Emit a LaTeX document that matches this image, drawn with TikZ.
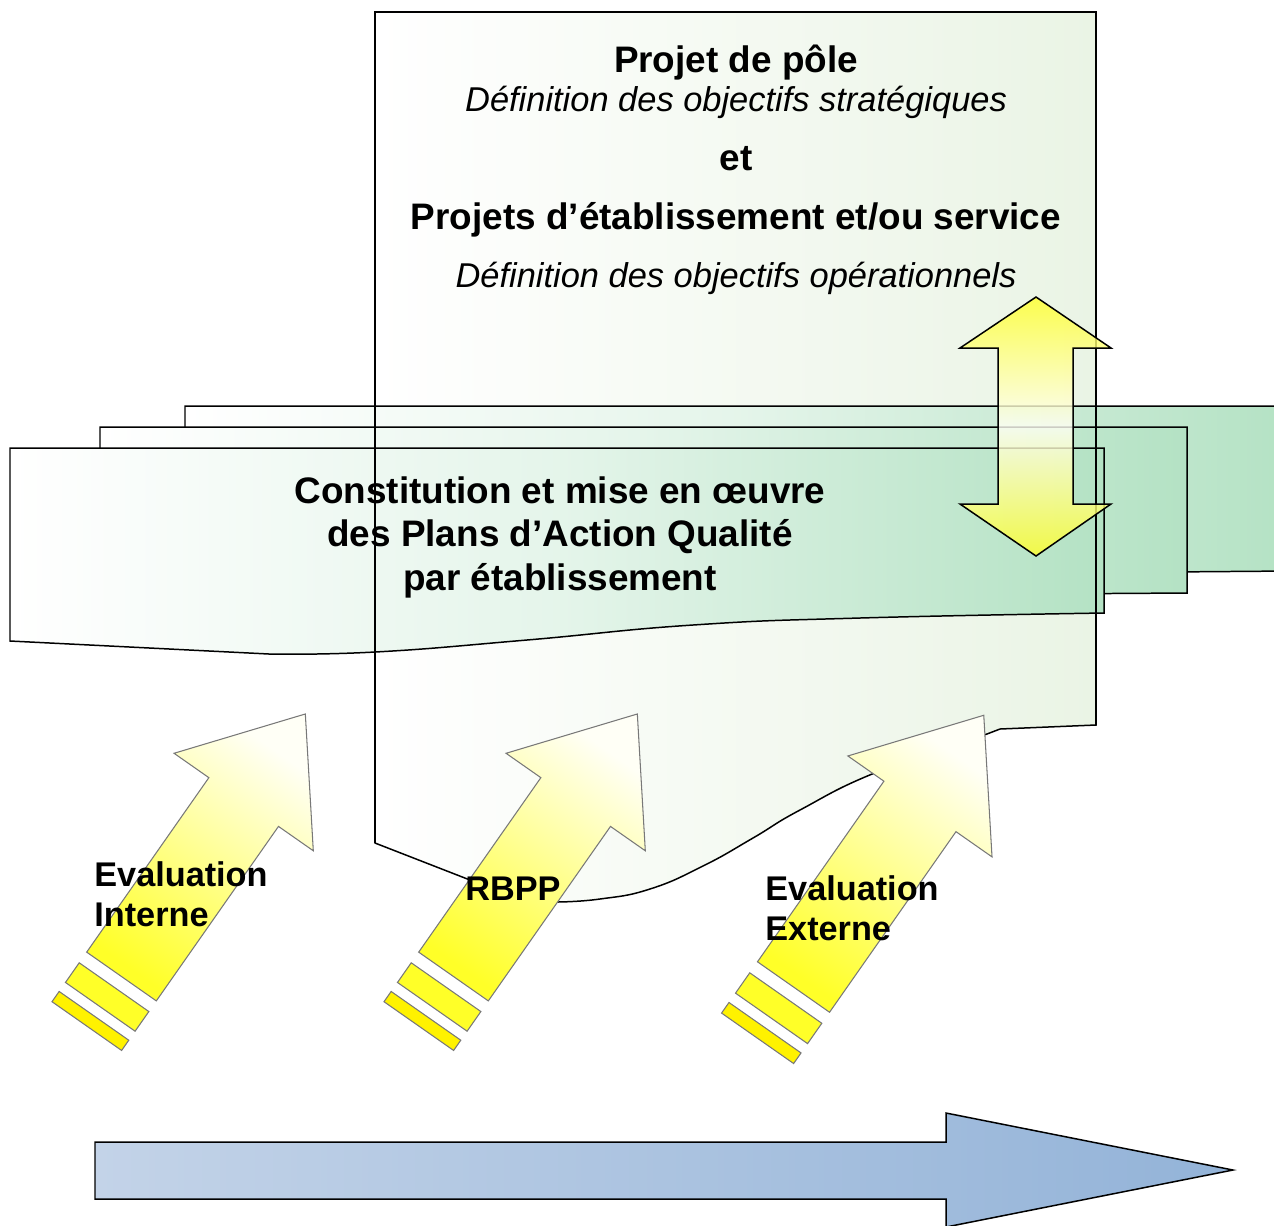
\documentclass[tikz,border=0pt]{standalone}
\usepackage{fontspec}
\setmainfont{Liberation Sans}
\definecolor{projetgreen}{RGB}{234,244,229}
\definecolor{plangreen}{RGB}{180,226,196}
\definecolor{arrowyellow}{RGB}{255,255,40}
\definecolor{paleyellow}{RGB}{255,255,246}
\definecolor{timeblueA}{RGB}{195,211,232}
\definecolor{timeblueB}{RGB}{147,179,216}
\definecolor{edgegray}{RGB}{120,120,120}
\tikzset{
  outline/.style={draw=black, line width=0.85pt},
  planbox/.style={outline, left color=white, right color=plangreen, middle color=plangreen!35},
  boldtxt/.style={inner sep=0pt, font=\fontsize{21}{24.7}\selectfont\bfseries},
  itxt/.style={inner sep=0pt, font=\fontsize{19.6}{23}\selectfont\itshape},
  labeltxt/.style={inner sep=0pt, align=left, font=\fontsize{19.5}{22.7}\selectfont\bfseries},
  qualarrow/.pic={
    \path[draw=edgegray, line width=0.6pt, top color=paleyellow, bottom color=arrowyellow, shading angle=-35]
      (0,-42.5) -- (213,-42.5) -- (213,-85) -- (320.5,0) -- (213,85) -- (213,42.5) -- (0,42.5) -- cycle;
    \path[draw=edgegray, line width=0.6pt, fill=arrowyellow] (-37,-42.5) rectangle (-13,42.5);
    \path[draw=edgegray, line width=0.6pt, fill=yellow] (-60.5,-42.5) rectangle (-48,42.5);
  }
}
\begin{document}
\begin{tikzpicture}[x=0.02cm, y=-0.02cm]
  \useasboundingbox (0,0) rectangle (1274,1225);
  \clip (0,0) rectangle (1274,1225);

  % projet de pole
  \path[outline, left color=white, right color=projetgreen]
    (375,12) -- (1096,12) -- (1096,725) -- (1000,729) -- (987,734)
    -- plot[smooth, tension=0.8] coordinates {(987,734) (877,772) (800,810) (753,838) (703,866) (650,889) (600,899) (557,902)}
    -- (470,880) -- (375,843) -- cycle;

  % plans d'action
  \path[planbox] (185,406) -- (1290,406) -- (1290,571) -- (185,580) -- cycle;
  \path[planbox] (100,427) -- (1187,427) -- (1187,593) -- (100,600) -- cycle;
  \path[planbox]
    (10,448) -- (1104,448) -- (1104,613)
    -- plot[smooth, tension=0.8] coordinates {(1104,613) (860,618) (693,625) (527,640) (375,652) (269,654)}
    -- (10,641) -- cycle;
  \draw[outline]
    (375,843) -- (375,12) -- (1096,12) -- (1096,725);

  \node[boldtxt, anchor=base] (pole) at (736,72) {Projet de pôle};
  \node[itxt, anchor=base] (poledef) at (736,111) {Définition des objectifs stratégiques};
  \node[boldtxt, anchor=base] (et) at (736,170) {et};
  \node[boldtxt, anchor=base] (etab) at (736,229) {Projets d’établissement et/ou service};
  \node[itxt, anchor=base] (etabdef) at (736,287) {Définition des objectifs opérationnels};
  \node[boldtxt, anchor=base, align=center] (paq) at (560,590)
    {Constitution et mise en œuvre\\des Plans d’Action Qualité\\par établissement};

  % double fleche
  \path[outline, fill opacity=0.8, top color=arrowyellow, bottom color=arrowyellow, middle color=yellow!4]
    (1036,297) -- (1111,348) -- (1073,348) -- (1073,504) -- (1111,504) -- (1036,556)
    -- (960,504) -- (998,504) -- (998,348) -- (960,348) -- cycle;

  \pic[rotate=55] at (121.5,976.5) {qualarrow};
  \pic[rotate=55] at (453.5,976.5) {qualarrow};
  \pic[rotate=55, scale=1.035] at (793.5,987) {qualarrow};

  \node[labeltxt, anchor=base west] (evalint) at (94,926) {Evaluation\\Interne};
  \node[labeltxt, anchor=base west] (rbpp) at (465,900) {RBPP};
  \node[labeltxt, anchor=base west] (evalext) at (765,940) {Evaluation\\Externe};

  % temps
  \path[outline, left color=timeblueA, right color=timeblueB]
    (95,1142) -- (946,1142) -- (946,1113) -- (1233,1170) -- (946,1227) -- (946,1199) -- (95,1199) -- cycle;
\end{tikzpicture}
\end{document}
